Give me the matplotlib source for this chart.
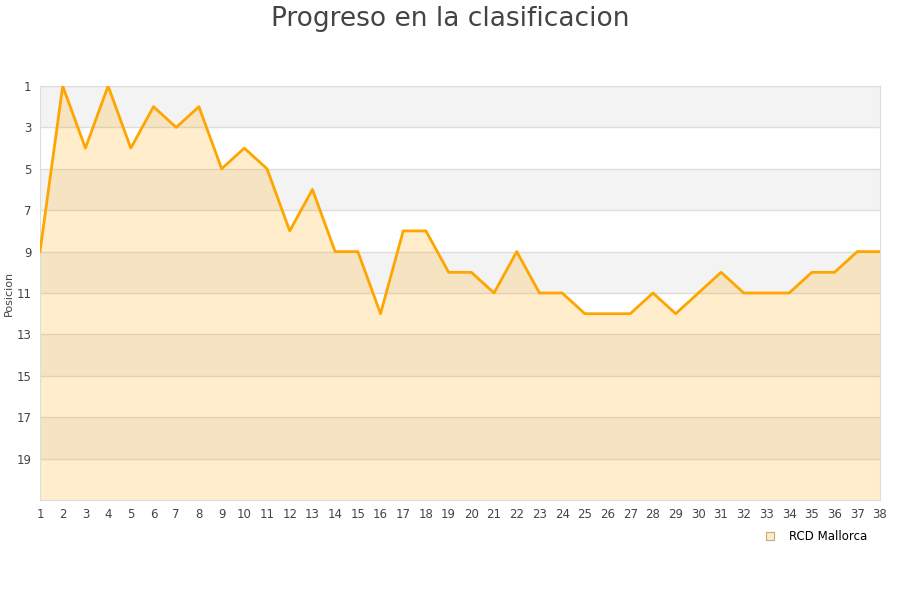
import numpy as np
import matplotlib.pyplot as plt
from matplotlib.patches import Patch

# Jornadas y posicion del RCD Mallorca
jornadas = list(range(1, 39))
posicion = [9, 1, 4, 1, 4, 2, 3, 2, 5, 4,
            5, 8, 6, 9, 9, 12, 8, 8, 10, 10,
            11, 9, 11, 11, 12, 12, 12, 11, 12, 11,
            10, 11, 11, 11, 10, 10, 9, 9]
y_ticks = [1, 3, 5, 7, 9, 11, 13, 15, 17, 19]
equipo = 'RCD Mallorca'

fig = plt.figure(figsize=(9, 6), dpi=100)
ax = fig.add_axes([40 / 900, 100 / 600, 840 / 900, 414 / 600])

# bandas alternas
for i, t in enumerate(range(1, 21, 2)):
    if i % 2 == 0:
        ax.axhspan(t, t + 2, color='#f3f3f3', zorder=0, lw=0)

ax.grid(axis='y', color='#dddddd', lw=1)
ax.set_axisbelow(True)
ax.fill_between(jornadas, posicion, 21, color='#ffa500', alpha=0.2, lw=0, zorder=2)
ax.plot(jornadas, posicion, color='#ffa500', lw=2, zorder=3)

ax.set_xlim(1, 38)
ax.set_ylim(21, 1)
ax.set_yticks(y_ticks)
ax.set_xticks(jornadas)
for s in ax.spines.values():
    s.set_color('#dddddd')
ax.tick_params(length=0, labelsize=8.5, colors='#444444', pad=6)
ax.set_ylabel('Posicion', fontsize=8, color='#444444', labelpad=2)

fig.suptitle('Progreso en la clasificacion', fontsize=19, color='#444444', y=0.99)

ax.legend(handles=[Patch(facecolor='#fdebcb', edgecolor='#c9a97a', lw=0.8)],
          labels=[equipo], loc='upper right', bbox_to_anchor=(0.997, -0.048),
          frameon=False, fontsize=8.5, handlelength=0.7, handleheight=0.7,
          handletextpad=1.2)

plt.savefig('out.png', dpi=100)
